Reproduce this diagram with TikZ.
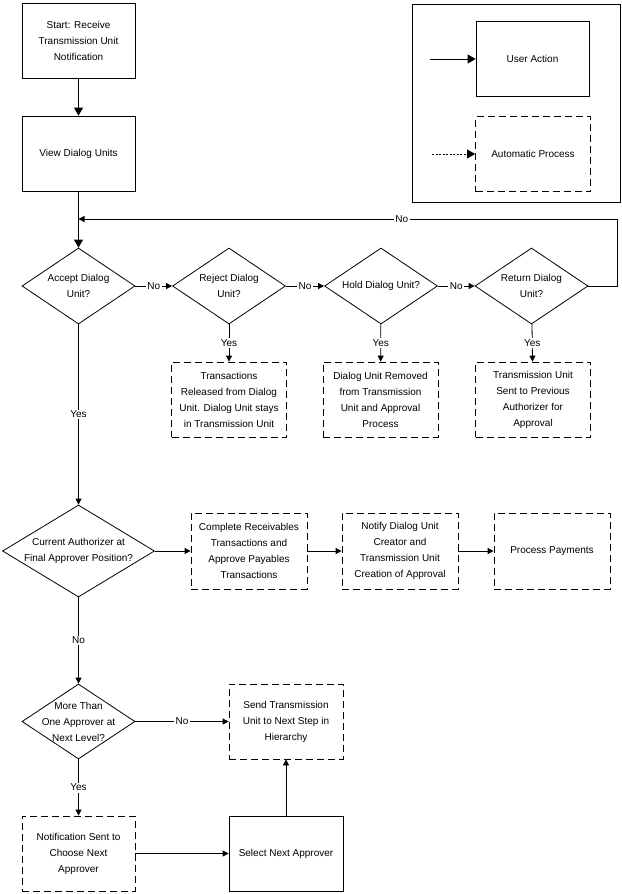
\documentclass[tikz,border=0pt]{standalone}
\usepackage{fontspec}
\setmainfont{Liberation Sans}
\usetikzlibrary{shapes.geometric, arrows.meta, positioning, calc}

\begin{document}
\begin{tikzpicture}[x=1pt, y=-1pt, font=\fontsize{10}{16}\selectfont, line width=0.8pt,
   act/.style={draw, rectangle, minimum width=113pt, minimum height=75pt, align=center, inner sep=1pt},
   autoproc/.style={act, dash pattern=on 7pt off 4pt},
   dec/.style={draw, diamond, minimum width=113pt, minimum height=76pt, inner sep=0pt},
   flow/.style={-{Triangle[width=6pt,length=6pt]}},
   bigflow/.style={-{Triangle[width=9pt,length=8pt]}},
   lbl/.style={fill=white, inner sep=1.5pt}]
\useasboundingbox (0,0) rectangle (621,894);

% Legend
\draw (412,4) rectangle (620,202);
\node[act] (user) at (532.5,59) {User Action};
\node[autoproc, minimum width=115pt] (autop) at (533,154) {Automatic Process};
\coordinate (ua) at (430,59);
\coordinate (ap) at (432,154);
\draw[bigflow] (ua) -- (user);
\draw[bigflow, dash pattern=on 2pt off 1.5pt] (ap) -- (autop);

% Start
\node[act] (start) at (78.5,40.5) {Start: Receive\\Transmission Unit\\Notification};
\node[act] (view) at (78.5,153.5) {View Dialog Units};
\draw[bigflow] (start) -- (view);

% Decisions on the dialog unit
\foreach \n/\x/\txt in {acc/78.5/Accept Dialog\\Unit?, rej/229/Reject Dialog\\Unit?,
   hold/381/Hold Dialog Unit?, ret/531.5/Return Dialog\\Unit?} {
   \node[dec, label={[align=center]center:\txt}] (\n) at (\x,286) {};
}
\draw[bigflow] (view) -- (acc);
\foreach \a/\b in {acc/rej, rej/hold, hold/ret} {
   \draw[flow] (\a) -- node[lbl] {No} (\b);
}
\coordinate (loopin) at (78.5,219);
\draw[flow] (ret.east) -- ++(29,0) |- node[lbl, pos=0.7] {No} (loopin);

% Results of reject, hold and return
\node[autoproc, minimum width=115pt] (rel) at (229,399.5) {Transactions\\Released from Dialog\\Unit. Dialog Unit stays\\in Transmission Unit};
\node[autoproc, minimum width=115pt] (rem) at (380.5,399.5) {Dialog Unit Removed\\from Transmission\\Unit and Approval\\Process};
\node[autoproc, minimum width=115pt] (prev) at (533,399.5) {Transmission Unit\\Sent to Previous\\Authorizer for\\Approval};
\foreach \a/\b in {rej/rel, hold/rem, ret/prev} {
   \draw[flow] (\a) -- node[lbl] {Yes} (\b);
}

% Final approver
\node[dec, minimum width=152pt, minimum height=92pt, label={[align=center]center:Current Authorizer at\\Final Approver Position?}] (cur) at (78.5,551) {};
\draw[flow] (acc) -- node[lbl] {Yes} (cur);
\node[autoproc, minimum width=116pt, minimum height=76pt] (comp) at (249,551) {Complete Receivables\\Transactions and\\Approve Payables\\Transactions};
\node[autoproc, minimum width=116pt, minimum height=76pt] (notify) at (400,551) {Notify Dialog Unit\\Creator and\\Transmission Unit\\Creation of Approval};
\node[autoproc, minimum width=116pt, minimum height=76pt] (pay) at (552,551) {Process Payments};
\draw[flow] (cur) -- (comp);
\draw[flow] (comp) -- (notify);
\draw[flow] (notify) -- (pay);

% Next level
\node[dec, minimum height=75pt, label={[align=center]center:More Than\\One Approver at\\Next Level?}] (more) at (78.5,721.5) {};
\draw[flow] (cur) -- node[lbl] {No} (more);
\node[autoproc, minimum width=114pt] (send) at (286,721.5) {Send Transmission\\Unit to Next Step in\\Hierarchy};
\draw[flow] (more) -- node[lbl] {No} (send);
\node[autoproc] (notif) at (78.5,853.5) {Notification Sent to\\Choose Next\\Approver};
\draw[flow] (more) -- node[lbl] {Yes} (notif);
\node[act, minimum width=114pt] (sel) at (286,853.5) {Select Next Approver};
\draw[flow] (notif) -- (sel);
\draw[flow] (sel) -- (send);
\end{tikzpicture}
\end{document}
